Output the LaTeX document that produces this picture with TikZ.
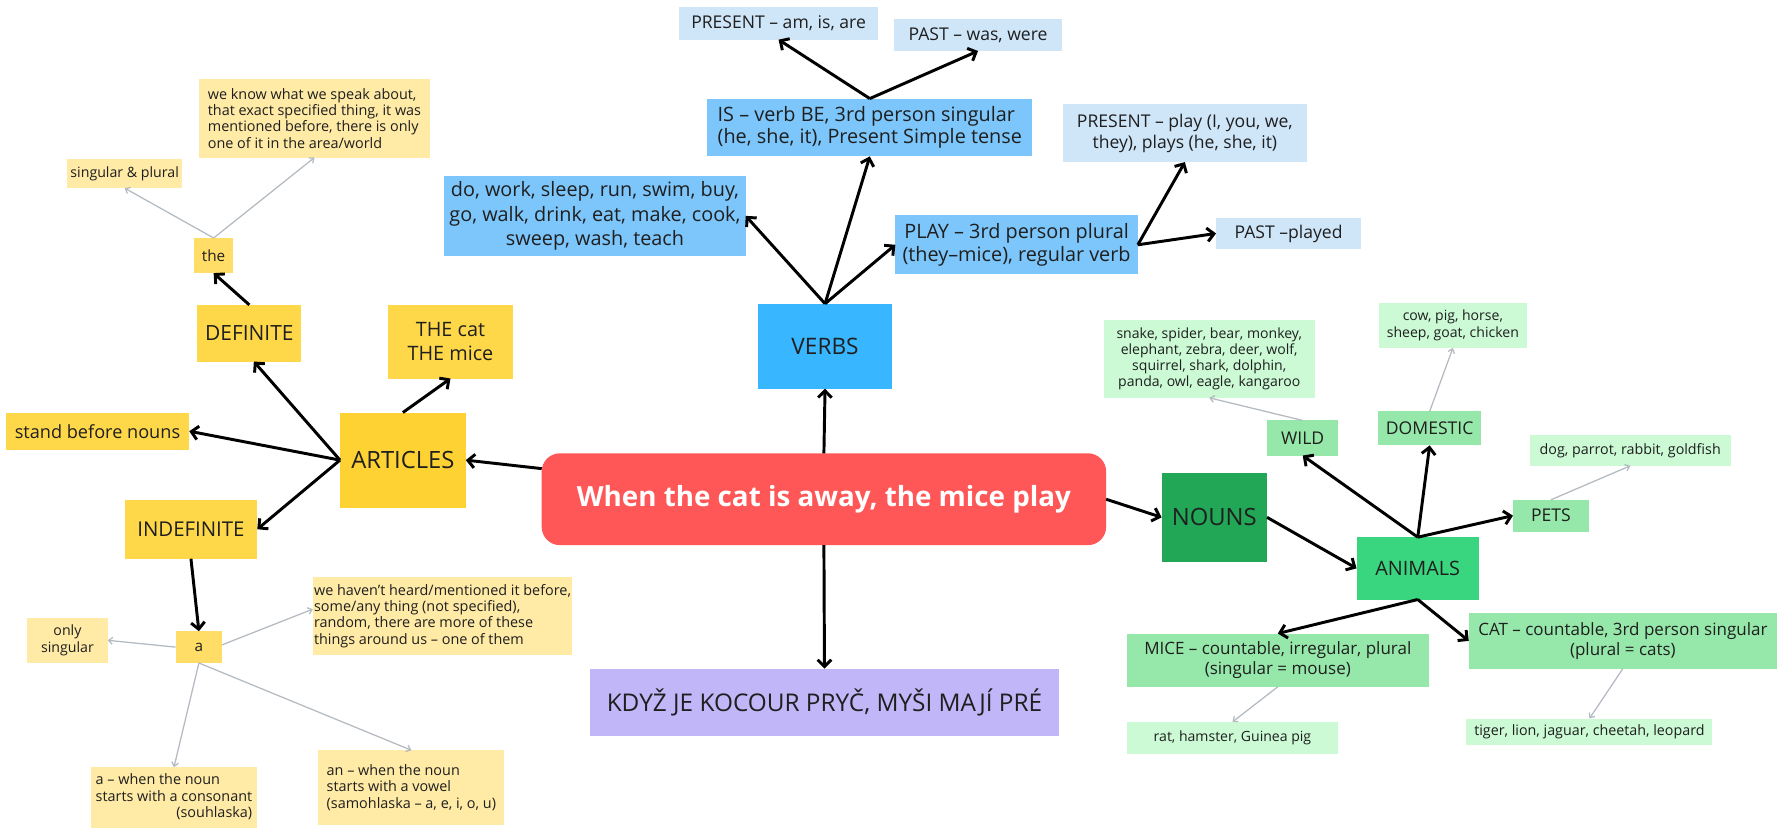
\documentclass[tikz,border=0pt]{standalone}
\usepackage{fontspec}
\setmainfont{Open Sans}
\usetikzlibrary{arrows.meta}
\definecolor{cred}{HTML}{FF5757}
\definecolor{cverbs}{HTML}{38B6FF}
\definecolor{cblue2}{HTML}{7CC6FB}
\definecolor{cblue3}{HTML}{CFE5F8}
\definecolor{clav}{HTML}{C1B6F8}
\definecolor{cgold}{HTML}{FFD233}
\definecolor{cgold2}{HTML}{FFD84A}
\definecolor{cgold3}{HTML}{FFDD66}
\definecolor{cpale}{HTML}{FFEAA6}
\definecolor{cgreen1}{HTML}{21A756}
\definecolor{cgreen2}{HTML}{3AD67F}
\definecolor{cgreen3}{HTML}{96E8AA}
\definecolor{cgreen4}{HTML}{CBFAD5}
\definecolor{cgray}{HTML}{B4BAC2}
\definecolor{ink}{HTML}{1F1F1F}
\newcommand{\fs}[2]{\fontsize{#1}{#2}\selectfont}
\newcommand{\boxnode}[7]{%
  \node[#6, minimum width={(#4-#2)*1pt}, minimum height={(#5-#3)*1pt}] (#1) at ({(#2+#4)/2},{(#3+#5)/2}) {#7};}
\tikzset{
  bx/.style={rectangle, inner sep=1pt, outer sep=0pt, text=ink},
  arr/.style={draw=black, line width=2.6pt, -{Straight Barb[length=6pt,width=12pt]}},
  garr/.style={draw=cgray, line width=1.1pt, -{Straight Barb[length=3.5pt,width=6pt]}},
}
\begin{document}
\begin{tikzpicture}[x=1pt,y=-1pt]
\fill[white] (0,0) rectangle (1568,733);
\useasboundingbox (0,0) rectangle (1568,733);

% central
\boxnode{center}{478}{400}{976}{481}{bx, fill=cred, rounded corners=16pt, text=white, font=\fs{24.5}{29}\bfseries}{When the cat is away, the mice play}
\boxnode{verbs}{669}{268}{787}{343}{bx, fill=cverbs, font=\fs{20}{24}}{VERBS}
\boxnode{kdyz}{521}{590}{934}{649}{bx, fill=clav, font=\fs{21.5}{26}}{KDYŽ JE KOCOUR PRYČ, MYŠI MAJÍ PRÉ}

% articles
\boxnode{articles}{300}{364}{411}{448}{bx, fill=cgold, font=\fs{21}{25}}{ARTICLES}
\boxnode{thecat}{342}{269}{453}{334}{bx, fill=cgold2, font=\fs{17.5}{21}, align=center}{THE cat\\THE mice}
\boxnode{definite}{174}{269}{266}{319}{bx, fill=cgold2, font=\fs{18.5}{22}}{DEFINITE}
\boxnode{the}{171}{210}{206}{241}{bx, fill=cgold3, font=\fs{13.5}{16}}{the}
\boxnode{singular}{59}{140}{161}{166}{bx, fill=cpale, font=\fs{12.5}{14.2}}{singular \& plural}
\boxnode{weknow}{176}{70}{379}{139}{bx, fill=cpale, font=\fs{12.7}{14.4}, align=left}{we know what we speak about,\\that exact specified thing, it was\\mentioned before, there is only\\one of it in the area/world}
\boxnode{stand}{5}{364}{167}{397}{bx, fill=cgold2, font=\fs{16}{19}}{stand before nouns}
\boxnode{indef}{110}{441}{227}{493}{bx, fill=cgold2, font=\fs{18}{22}}{INDEFINITE}
\boxnode{a}{155}{557}{196}{585}{bx, fill=cgold3, font=\fs{13.5}{16}}{a}
\boxnode{only}{24}{545}{95}{585}{bx, fill=cpale, font=\fs{12.5}{14.2}, align=center}{only\\singular}
\boxnode{weh}{276}{509}{505}{578}{bx, fill=cpale, font=\fs{12.7}{14.4}, align=left}{we haven't heard/mentioned it before,\\some/any thing (not specified),\\random, there are more of these\\things around us – one of them}
\boxnode{awhen}{80}{677}{227}{731}{bx, fill=cpale, font=\fs{12.7}{14.4}}{\begin{tabular}{@{}l@{}}a – when the noun\\starts with a consonant\\\multicolumn{1}{@{}r@{}}{(souhlaska)}\end{tabular}}
\boxnode{anwhen}{281}{662}{445}{728}{bx, fill=cpale, font=\fs{12.7}{14.4}, align=left}{an – when the noun\\starts with a vowel\\(samohlaska – a, e, i, o, u)}

% verbs
\boxnode{dowork}{392}{155}{658}{226}{bx, fill=cblue2, font=\fs{17.5}{21.3}, align=center}{do, work, sleep, run, swim, buy,\\go, walk, drink, eat, make, cook,\\sweep, wash, teach}
\boxnode{is}{624}{87}{911}{138}{bx, fill=cblue2, font=\fs{17.5}{20}, align=left}{IS – verb BE, 3rd person singular\\(he, she, it), Present Simple tense}
\boxnode{presam}{599}{6}{775}{35}{bx, fill=cblue3, font=\fs{15.5}{18}}{PRESENT – am, is, are}
\boxnode{pastwas}{789}{17}{937}{45}{bx, fill=cblue3, font=\fs{15.5}{18}}{PAST – was, were}
\boxnode{play}{790}{190}{1004}{242}{bx, fill=cblue2, font=\fs{17.5}{20}, align=center}{PLAY – 3rd person plural\\(they–mice), regular verb}
\boxnode{presplay}{938}{92}{1153}{143}{bx, fill=cblue3, font=\fs{15.5}{18.5}, align=center}{PRESENT – play (I, you, we,\\they), plays (he, she, it)}
\boxnode{pastplayed}{1073}{192}{1201}{220}{bx, fill=cblue3, font=\fs{15.5}{18}}{PAST –played}

% nouns
\boxnode{nouns}{1025}{417}{1118}{496}{bx, fill=cgreen1, font=\fs{21}{25}}{NOUNS}
\boxnode{animals}{1197}{474}{1305}{529}{bx, fill=cgreen2, font=\fs{17.5}{21}}{ANIMALS}
\boxnode{wild}{1118}{371}{1181}{402}{bx, fill=cgreen3, font=\fs{15.5}{18}}{WILD}
\boxnode{domestic}{1216}{363}{1307}{393}{bx, fill=cgreen3, font=\fs{15.5}{18}}{DOMESTIC}
\boxnode{pets}{1335}{441}{1402}{469}{bx, fill=cgreen3, font=\fs{15.5}{18}}{PETS}
\boxnode{snake}{974}{282}{1160}{351}{bx, fill=cgreen4, font=\fs{12.4}{14.3}, align=center}{snake, spider, bear, monkey,\\elephant, zebra, deer, wolf,\\squirrel, shark, dolphin,\\panda, owl, eagle, kangaroo}
\boxnode{cow}{1217}{267}{1347}{307}{bx, fill=cgreen4, font=\fs{12.4}{14.3}, align=center}{cow, pig, horse,\\sheep, goat, chicken}
\boxnode{dog}{1350}{384}{1527}{411}{bx, fill=cgreen4, font=\fs{12.6}{15}}{dog, parrot, rabbit, goldfish}
\boxnode{mice}{994}{559}{1261}{606}{bx, fill=cgreen3, font=\fs{15}{18}, align=center}{MICE – countable, irregular, plural\\(singular = mouse)}
\boxnode{cat}{1296}{541}{1568}{590}{bx, fill=cgreen3, font=\fs{15}{18}, align=center}{CAT – countable, 3rd person singular\\(plural = cats)}
\boxnode{rat}{994}{637}{1181}{665}{bx, fill=cgreen4, font=\fs{12.4}{15}}{rat, hamster, Guinea pig}
\boxnode{tiger}{1294}{634}{1511}{657}{bx, fill=cgreen4, font=\fs{12.6}{15}}{tiger, lion, jaguar, cheetah, leopard}

% black connectors
\draw[arr] ([yshift=27pt]center.west) -- (articles.east);
\draw[arr] (center.north) -- (verbs.south);
\draw[arr] (center.south) -- (kdyz.north);
\draw[arr] (center.east) -- (nouns.west);
\draw[arr] (nouns.east) -- (animals.west);
\draw[arr] (animals.north) -- (wild.south);
\draw[arr] (animals.north) -- (domestic.south);
\draw[arr] (animals.north) -- (pets.west);
\draw[arr] (animals.south) -- (mice.north);
\draw[arr] (animals.south) -- (cat.west);
\draw[arr] (verbs.north) -- (dowork.east);
\draw[arr] (verbs.north) -- (is.south);
\draw[arr] (verbs.north) -- (play.west);
\draw[arr] (is.north) -- (presam.south);
\draw[arr] (is.north) -- (pastwas.south);
\draw[arr] (play.east) -- (presplay.south);
\draw[arr] (play.east) -- (pastplayed.west);
\draw[arr] (definite.north) -- (the.south);
\draw[arr] (articles.west) -- ([xshift=4pt]definite.south);
\draw[arr] (articles.west) -- (stand.east);
\draw[arr] (articles.west) -- (indef.east);
\draw[arr] (articles.north) -- (thecat.south);
\draw[arr] (indef.south) -- (a.north);

% grey connectors
\draw[garr] (the.north) -- (singular.south);
\draw[garr] (the.north) -- (weknow.south);
\draw[garr] (a.west) -- (only.east);
\draw[garr] ([yshift=2pt]a.east) -- ([yshift=6pt]weh.west);
\draw[garr] (a.south) -- (awhen.north);
\draw[garr] (a.south) -- (anwhen.north);
\draw[garr] (wild.north) -- (snake.south);
\draw[garr] (domestic.north) -- (cow.south);
\draw[garr] (pets.north) -- (dog.south);
\draw[garr] (mice.south) -- (rat.north);
\draw[garr] (cat.south) -- (tiger.north);
\end{tikzpicture}
\end{document}
